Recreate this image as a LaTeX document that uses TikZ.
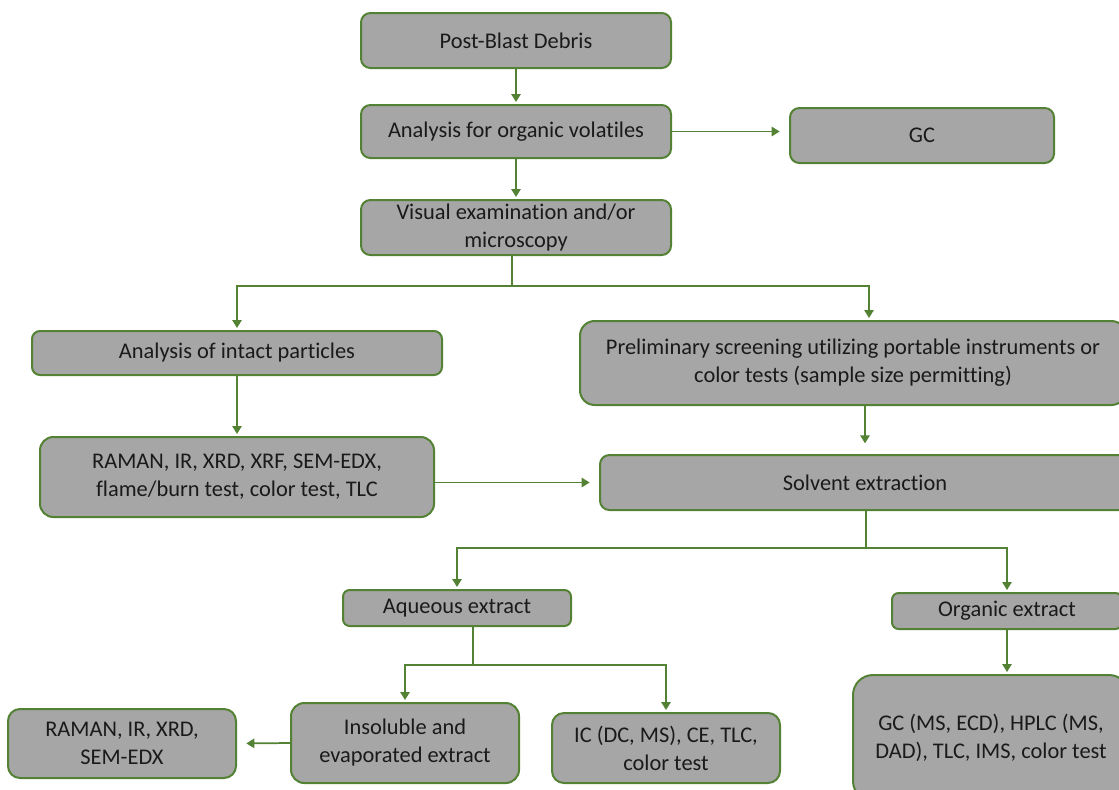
\documentclass[tikz,border=0pt]{standalone}
\usepackage{fontspec}
\setmainfont{Carlito}[Ligatures=NoCommon]
\usetikzlibrary{arrows.meta,calc}
\definecolor{bfill}{HTML}{A6A6A6}
\definecolor{bline}{HTML}{548235}
\definecolor{btext}{HTML}{1A1A1A}
\tikzset{
  box/.style 2 args={draw=bline, fill=bfill, line width=1.5pt, text=btext,
    minimum width={#1*0.75pt}, minimum height={#2*0.75pt}, inner sep=0pt,
    align=center, font=\fontsize{16.8}{21}\selectfont},
  arr/.style={draw=bline, line width=1.3pt, -{Triangle[length=6pt,width=7pt]}, shorten >=1.5pt},
  ln/.style={draw=bline, line width=1.3pt}
}
\begin{document}
\begin{tikzpicture}[x=0.75pt,y=-0.75pt]
\clip (0,0) rectangle (1119,789);
\useasboundingbox (0,0) rectangle (1119,789);
\fill[white] (0,0) rectangle (1119,789);
\node[box={310}{55}, rounded corners=7pt] (post) at (516,40.5) {Post-Blast Debris};
\node[box={310}{53}, rounded corners=7pt] (anal) at (516,131.5) {Analysis for organic volatiles};
\node[box={264}{55}, rounded corners=7pt] (gc) at (922,135.5) {GC};
\node[box={310}{55}, rounded corners=7pt] (vis) at (516,227.5) {Visual examination and/or\\microscopy};
\node[box={410}{44}, rounded corners=6pt] (intact) at (237,353) {Analysis of intact particles};
\node[box={546}{84}, rounded corners=11pt] (prelim) at (853,363) {Preliminary screening utilizing portable instruments or\\color tests (sample size permitting)};
\node[box={394}{80}, rounded corners=10pt] (ram1) at (237,477) {RAMAN, IR, XRD, XRF, SEM-EDX,\\flame/burn test, color test, TLC};
\node[box={530}{55}, rounded corners=7pt] (solv) at (865,482.5) {Solvent extraction};
\node[box={228}{36}, rounded corners=5pt] (aq) at (457,608) {Aqueous extract};
\node[box={230}{36}, rounded corners=5pt] (org) at (1007,611) {Organic extract};
\node[box={228}{69}, rounded corners=9pt] (ram2) at (122,743.5) {RAMAN, IR, XRD,\\SEM-EDX};
\node[box={228}{80}, rounded corners=10pt] (insol) at (405,743) {Insoluble and\\evaporated extract};
\node[box={228}{70}, rounded corners=9pt] (ic) at (666,748) {IC (DC, MS), CE, TLC,\\color test};
\node[box={276}{126}, rounded corners=15pt] (gcb) at (991,738) {GC (MS, ECD), HPLC (MS,\\DAD), TLC, IMS, color test};
% connectors
\draw[arr] (post) -- (anal);
\draw[arr, shorten >=7pt] (anal.east) -- (anal.east -| gc.west);
\draw[arr] (anal) -- (vis);
\coordinate (j1) at (512,286);
\coordinate (j1r) at (869,286);
\draw[ln] (vis.south -| j1) -- (j1);
\draw[arr] (j1) -| (intact.north);
\draw[arr] (j1) -- (j1r) -- (j1r |- prelim.north);
\draw[arr] (intact) -- (ram1);
\draw[arr, shorten >=7pt] (ram1.east |- solv.west) -- (solv.west);
\draw[arr, shorten >=8pt] (prelim.south -| solv.north) -- (solv.north);
\coordinate (j2) at (866,548);
\draw[ln] (solv.south -| j2) -- (j2);
\draw[arr] (j2) -| (aq.north);
\draw[arr] (j2) -| (org.north);
\coordinate (j3) at (473,665);
\draw[ln] (aq.south -| j3) -- (j3);
\draw[arr] (j3) -| (insol.north);
\draw[arr] (j3) -| (ic.north);
\draw[arr, shorten >=7pt] (insol.west) -- (ram2.east);
\draw[arr] (org.south) -- (org.south |- gcb.north);
\end{tikzpicture}
\end{document}
